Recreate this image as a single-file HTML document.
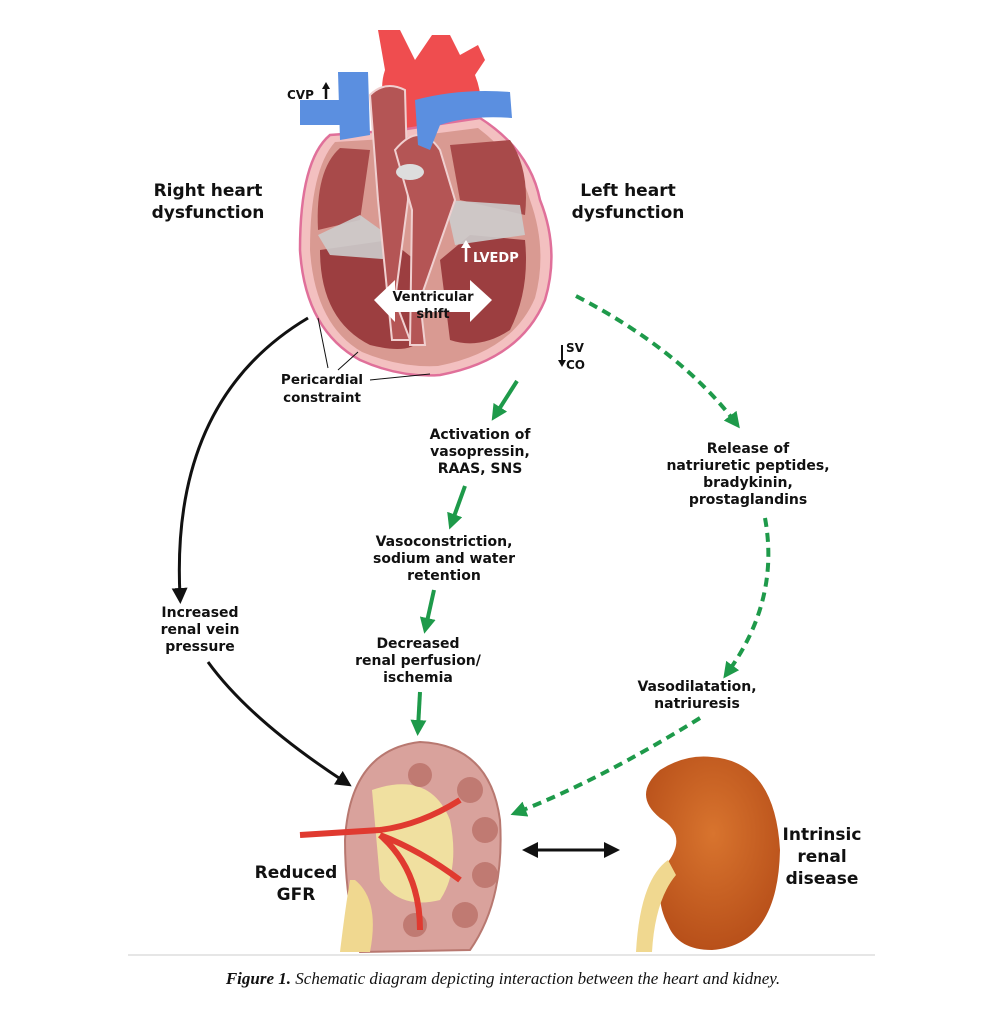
<!DOCTYPE html>
<html><head><style>
body{margin:0;background:#fff;}
svg{display:block}
text{font-family:"DejaVu Sans","Liberation Sans",sans-serif;font-weight:bold;fill:#111}
</style></head><body>
<svg width="1007" height="1013" viewBox="0 0 1007 1013" xmlns="http://www.w3.org/2000/svg">
<defs>
<marker id="ag" markerWidth="16" markerHeight="16" refX="8" refY="8" orient="auto" markerUnits="userSpaceOnUse" viewBox="0 0 16 16"><path d="M0,0 L16,8 L0,16 z" fill="#1e9a4a"/></marker>
<marker id="abk" markerWidth="16" markerHeight="16" refX="8" refY="8" orient="auto" markerUnits="userSpaceOnUse" viewBox="0 0 16 16"><path d="M0,0 L16,8 L0,16 z" fill="#111"/></marker>
<radialGradient id="rk" cx="0.5" cy="0.4" r="0.6"><stop offset="0" stop-color="#d8742e"/><stop offset="1" stop-color="#b8501a"/></radialGradient>
</defs>
<path d="M378,30 L400,30 L415,60 L432,35 L450,35 L460,55 L478,45 L485,60 L475,75 Q485,100 478,125 L400,130 Q375,100 385,70 Z" fill="#ef4d4f"/>
<path d="M330,135 Q300,160 300,250 Q305,330 360,360 Q400,378 440,375 Q520,360 545,300 Q560,250 540,200 Q530,150 480,118 L400,130 Z" fill="#f3c0c0" stroke="#e0709a" stroke-width="2.5"/>
<path d="M335,142 Q310,170 310,250 Q315,325 362,352 Q400,368 438,366 Q512,352 535,298 Q548,250 530,200 Q518,158 478,128 L400,138 Z" fill="#d99a92"/>
<path d="M340,148 Q315,170 318,230 L360,220 L370,150 Z" fill="#a84a4a"/>
<path d="M320,250 Q320,320 370,345 Q410,355 420,340 L415,260 L390,240 Z" fill="#9c3e40"/>
<path d="M440,260 L450,340 Q480,350 510,330 Q530,290 525,240 L470,235 Z" fill="#9c3e40"/>
<path d="M450,145 L510,140 Q530,170 525,215 L460,200 Z" fill="#a84a4a"/>
<path d="M318,235 L360,215 L395,240 L395,260 L330,255 Z" fill="#ccc" opacity=".9"/>
<path d="M445,200 L520,205 L525,235 L455,245 Z" fill="#ccc" opacity=".9"/>
<path d="M370,95 Q385,80 405,90 L408,200 L395,300 L410,340 L392,340 L378,200 Z" fill="#b45555" stroke="#f0d0d0" stroke-width="2"/>
<path d="M395,150 Q420,120 440,150 L455,200 L420,300 L425,345 L410,345 L412,210 Z" fill="#b45555" stroke="#f0d0d0" stroke-width="2"/>
<ellipse cx="410" cy="172" rx="14" ry="8" fill="#ddd"/>
<path d="M338,72 L368,72 L370,135 L340,140 Z" fill="#5b8fe0"/>
<path d="M300,100 L340,100 L340,125 L300,125 Z" fill="#5b8fe0"/>
<path d="M415,100 Q460,88 510,92 L512,118 Q470,115 440,125 L430,150 L418,145 Z" fill="#5b8fe0"/>
<path d="M374,300 L395,280 L395,290 L470,290 L470,280 L492,300 L470,322 L470,312 L395,312 L395,322 Z" fill="#fff"/>
<text x="433" y="301" font-size="13" text-anchor="middle">Ventricular</text>
<text x="433" y="318" font-size="13" text-anchor="middle">shift</text>
<text x="473" y="262" font-size="13" style="fill:#fff">LVEDP</text>
<path d="M466,262 L466,245" stroke="#fff" stroke-width="2.5"/><path d="M461,248 L466,240 L471,248z" fill="#fff"/>
<text x="287" y="99" font-size="12">CVP</text>
<path d="M326,99 L326,86" stroke="#111" stroke-width="2.5"/><path d="M322,89 L326,82 L330,89z" fill="#111"/>
<text x="566" y="352" font-size="12">SV</text><text x="566" y="369" font-size="12">CO</text>
<path d="M562,345 L562,362" stroke="#111" stroke-width="2"/><path d="M558,360 L562,367 L566,360z" fill="#111"/>
<text x="208" y="196" font-size="17" text-anchor="middle">Right heart</text>
<text x="208" y="218" font-size="17" text-anchor="middle">dysfunction</text>
<text x="628" y="196" font-size="17" text-anchor="middle">Left heart</text>
<text x="628" y="218" font-size="17" text-anchor="middle">dysfunction</text>
<text x="322" y="384" font-size="13.5" text-anchor="middle">Pericardial</text>
<text x="322" y="402" font-size="13.5" text-anchor="middle">constraint</text>
<path d="M318,318 L328,368 M358,352 L338,370 M430,374 L370,380" stroke="#111" stroke-width="1"/>
<path d="M308,318 Q170,400 180,596" fill="none" stroke="#111" stroke-width="3" marker-end="url(#abk)"/>
<path d="M208,662 Q250,720 345,782" fill="none" stroke="#111" stroke-width="3" marker-end="url(#abk)"/>
<path d="M530,850 L612,850" stroke="#111" stroke-width="3" marker-end="url(#abk)"/>
<path d="M612,850 L530,850" stroke="#111" stroke-width="3" marker-end="url(#abk)"/>
<g stroke="#1e9a4a" stroke-width="4" fill="none">
<path d="M517,381 L496,414" marker-end="url(#ag)"/>
<path d="M465,486 L452,522" marker-end="url(#ag)"/>
<path d="M434,590 L426,626" marker-end="url(#ag)"/>
<path d="M420,692 L418,728" marker-end="url(#ag)"/>
<path d="M576,296 Q680,350 735,422" stroke-dasharray="9,6" marker-end="url(#ag)"/>
<path d="M765,518 Q780,600 728,672" stroke-dasharray="9,6" marker-end="url(#ag)"/>
<path d="M700,718 Q600,780 518,812" stroke-dasharray="9,6" marker-end="url(#ag)"/>
</g>
<g font-size="14" text-anchor="middle">
<text x="480" y="439">Activation of</text><text x="480" y="456">vasopressin,</text><text x="480" y="473">RAAS, SNS</text>
<text x="444" y="546">Vasoconstriction,</text><text x="444" y="563">sodium and water</text><text x="444" y="580">retention</text>
<text x="418" y="648">Decreased</text><text x="418" y="665">renal perfusion/</text><text x="418" y="682">ischemia</text>
<text x="200" y="617">Increased</text><text x="200" y="634">renal vein</text><text x="200" y="651">pressure</text>
<text x="748" y="453">Release of</text><text x="748" y="470">natriuretic peptides,</text><text x="748" y="487">bradykinin,</text><text x="748" y="504">prostaglandins</text>
<text x="697" y="691">Vasodilatation,</text><text x="697" y="708">natriuresis</text>
</g>
<path d="M420,742 Q490,745 500,820 Q505,900 470,950 L360,952 Q345,900 345,840 Q350,750 420,742 Z" fill="#d9a29c" stroke="#b87870" stroke-width="2"/>
<path d="M372,790 Q430,770 450,820 Q460,870 440,900 Q400,910 380,880 Z" fill="#f0e0a0"/>
<path d="M355,880 Q380,900 370,952 L340,952 Q345,910 350,880Z" fill="#f0d890"/>
<g fill="#c07a72"><circle cx="470" cy="790" r="13"/><circle cx="485" cy="830" r="13"/><circle cx="485" cy="875" r="13"/><circle cx="465" cy="915" r="13"/><circle cx="420" cy="775" r="12"/><circle cx="415" cy="925" r="12"/></g>
<path d="M300,835 L380,830 Q420,825 460,800 M380,835 Q420,850 460,880 M380,835 Q420,870 420,930" stroke="#e03a30" stroke-width="6" fill="none"/>
<text x="296" y="878" font-size="17" text-anchor="middle">Reduced</text>
<text x="296" y="900" font-size="17" text-anchor="middle">GFR</text>
<path d="M712,757 Q775,762 780,850 Q778,945 712,950 Q678,950 668,925 Q652,895 668,862 Q688,835 660,818 Q632,795 660,770 Q685,754 712,757 Z" fill="url(#rk)"/>
<path d="M668,860 Q640,880 636,952 L652,952 Q655,900 676,875 Z" fill="#f0d890"/>
<text x="822" y="840" font-size="17" text-anchor="middle">Intrinsic</text>
<text x="822" y="862" font-size="17" text-anchor="middle">renal</text>
<text x="822" y="884" font-size="17" text-anchor="middle">disease</text>
<line x1="128" y1="955" x2="875" y2="955" stroke="#ccc" stroke-width="1"/>
<text x="503" y="984" font-size="17" text-anchor="middle" style="font-family:'Liberation Serif',serif;font-style:italic;font-weight:normal"><tspan font-weight="bold">Figure 1.</tspan> Schematic diagram depicting interaction between the heart and kidney.</text>
</svg>
</body></html>
